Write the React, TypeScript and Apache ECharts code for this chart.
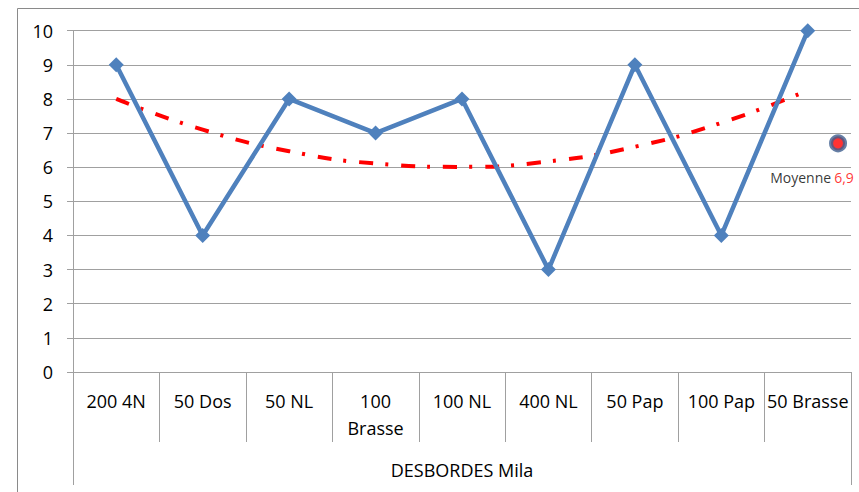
import React, { useEffect, useRef } from "react";
import * as echarts from "echarts";

const categories = ["200 4N", "50 Dos", "50 NL", "100\nBrasse", "100 NL", "400 NL", "50 Pap", "100 Pap", "50 Brasse"];
const scores = [9, 4, 8, 7, 8, 3, 9, 4, 10];
const trendValues = [8.0, 7.1, 6.47, 6.11, 6.01, 6.17, 6.6, 7.3, 8.25];
const swimmer = ["DESBORDES Mila"];
const averagePoint = [[8.35, 6.7]];
const yTicks = { min: 0, max: 10, interval: 1 };

const FONT = "Open Sans";

export default function App() {
  const ref = useRef<HTMLDivElement>(null);
  useEffect(() => {
    if (!ref.current) return;
    const chart = echarts.init(ref.current, undefined, { renderer: "svg" });
    const mean = scores.reduce((a, b) => a + b, 0) / scores.length;
    const meanText = mean.toFixed(1).replace(".", ",");
    const gray = "#A0A0A0";
    chart.setOption({
      animation: false,
      backgroundColor: "#ffffff",
      textStyle: { fontFamily: FONT },
      graphic: [
        {
          type: "rect",
          left: 15,
          top: 6,
          shape: { width: 900, height: 600 },
          style: { fill: "none", stroke: "#8A8A8A", lineWidth: 1 },
          silent: true,
          z: -1,
        },
      ],
      grid: { left: 73, top: 30.7, right: 8, bottom: 120, containLabel: false },
      xAxis: [
        {
          type: "category",
          data: categories,
          boundaryGap: true,
          axisLine: { show: true, onZero: false, lineStyle: { color: gray, width: 1 } },
          axisTick: { show: true, interval: 0, length: 70, lineStyle: { color: gray, width: 1 } },
          axisLabel: {
            interval: 0,
            margin: 15,
            color: "#000",
            fontSize: 18,
            lineHeight: 27,
            fontFamily: FONT,
            verticalAlign: "top",
          },
          splitLine: { show: false },
        },
        {
          type: "category",
          data: swimmer,
          position: "bottom",
          boundaryGap: true,
          axisLine: { show: true, onZero: false, lineStyle: { color: gray, width: 1 } },
          axisTick: { show: true, interval: 0, length: 113, lineStyle: { color: gray, width: 1 } },
          axisLabel: { margin: 87, color: "#000", fontSize: 18, lineHeight: 22, fontFamily: FONT, verticalAlign: "top" },
          splitLine: { show: false },
        },
        {
          type: "value",
          min: -0.5,
          max: 8.5,
          show: false,
        },
      ],
      yAxis: {
        type: "value",
        min: yTicks.min,
        max: yTicks.max,
        interval: yTicks.interval,
        axisLine: { show: true, onZero: false, lineStyle: { color: gray, width: 1 } },
        axisTick: { show: true, length: 6, lineStyle: { color: gray, width: 1 } },
        axisLabel: { margin: 20, color: "#000", fontSize: 18, fontFamily: FONT },
        splitLine: { show: true, lineStyle: { color: gray, width: 1.2 } },
      },
      series: [
        {
          type: "line",
          name: "trend",
          xAxisIndex: 0,
          data: trendValues,
          smooth: true,
          symbol: "none",
          lineStyle: { color: "#FF0000", width: 4, type: [14, 12, 3, 13] },
          z: 3,
          silent: true,
        },
        {
          type: "line",
          name: "scores",
          xAxisIndex: 0,
          data: scores,
          symbol: "diamond",
          symbolSize: 15,
          lineStyle: { color: "#4F81BD", width: 4.5 },
          itemStyle: { color: "#4F81BD" },
          z: 4,
        },
        {
          type: "scatter",
          name: "moyenne",
          xAxisIndex: 2,
          data: averagePoint,
          symbol: "circle",
          symbolSize: 14,
          itemStyle: { color: "#FF0000", borderColor: "#3F5F8E", borderWidth: 4 },
          label: {
            show: true,
            position: "bottom",
            offset: [-26, 13],
            formatter: "{a|Moyenne} {b|" + meanText + "}",
            rich: {
              a: { color: "#000", fontSize: 14, fontFamily: FONT },
              b: { color: "#FF0000", fontSize: 14, fontFamily: FONT },
            },
          },
          z: 5,
        },
      ],
    });
    return () => chart.dispose();
  }, []);
  return (
    <div
      ref={ref}
      style={{ position: "fixed", left: 0, top: 0, width: 859, height: 492, background: "#fff" }}
    />
  );
}
